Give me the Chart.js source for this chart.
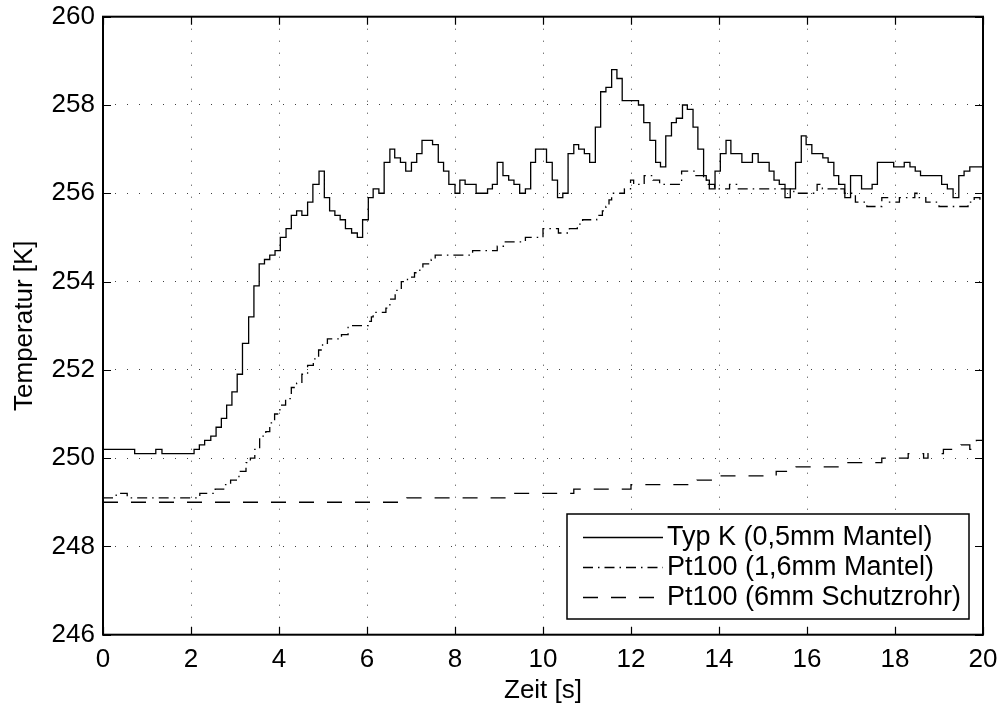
<!DOCTYPE html>
<html>
<head>
<meta charset="utf-8">
<script src="https://cdn.jsdelivr.net/npm/chart.js@4/dist/chart.umd.min.js"></script>
<style>
  html, body { margin: 0; padding: 0; background: #fff; }
  canvas { display: block; }
</style>
</head>
<body>
<canvas id="tempChart" width="1000" height="706"></canvas>
<script>
// step times [s] and temperatures [K]; each value holds until the next time
var typKTime = [0, 0.72, 1.2, 1.34, 2.07, 2.19, 2.31, 2.45, 2.57, 2.69, 2.81, 2.93, 3.05, 3.17, 3.31, 3.43,
    3.55, 3.67, 3.79, 3.91, 4.03, 4.16, 4.28, 4.4, 4.52, 4.65, 4.77, 4.91, 5.03, 5.15, 5.27, 5.39,
    5.51, 5.65, 5.78, 5.9, 6.03, 6.14, 6.27, 6.39, 6.52, 6.63, 6.76, 6.88, 7.01, 7.13, 7.25, 7.49,
    7.62, 7.74, 7.86, 8.0, 8.11, 8.23, 8.48, 8.74, 8.85, 8.96, 9.09, 9.22, 9.34, 9.47, 9.6, 9.72,
    9.83, 10.08, 10.21, 10.33, 10.45, 10.57, 10.7, 10.81, 10.94, 11.06, 11.19, 11.31, 11.43, 11.56,
    11.68, 11.8, 12.17, 12.29, 12.43, 12.56, 12.67, 12.79, 12.92, 13.03, 13.17, 13.28, 13.41, 13.52,
    13.65, 13.71, 13.78, 13.91, 14.03, 14.16, 14.27, 14.52, 14.76, 14.89, 15.14, 15.25, 15.37, 15.5,
    15.62, 15.74, 15.87, 15.98, 16.11, 16.36, 16.48, 16.61, 16.72, 16.86, 16.99, 17.24, 17.48, 17.6,
    17.97, 18.21, 18.34, 18.46, 18.58, 19.06, 19.19, 19.32, 19.45, 19.57, 19.7, 20];
var typKTemp = [250.2, 250.1, 250.2, 250.1, 250.2, 250.3, 250.4, 250.5, 250.7, 250.9, 251.2, 251.5, 251.9, 252.6, 253.2, 253.9,
    254.4, 254.5, 254.6, 254.7, 255.0, 255.2, 255.5, 255.6, 255.5, 255.8, 256.2, 256.5, 255.9, 255.6, 255.5, 255.4,
    255.2, 255.1, 255.0, 255.4, 255.9, 256.1, 256.0, 256.7, 257.0, 256.8, 256.7, 256.5, 256.7, 256.9, 257.2, 257.1,
    256.7, 256.5, 256.2, 256.0, 256.3, 256.2, 256.0, 256.1, 256.2, 256.7, 256.4, 256.3, 256.2, 256.0, 256.1, 256.7,
    257.0, 256.7, 256.3, 255.9, 256.0, 256.9, 257.1, 257.0, 256.9, 256.7, 257.5, 258.3, 258.4, 258.8,
    258.6, 258.1, 258.0, 257.6, 257.2, 256.7, 256.6, 257.3, 257.6, 257.7, 258.0, 257.9, 257.5, 257.0,
    256.4, 256.3, 256.1, 256.5, 256.9, 257.2, 256.9, 256.7, 256.9, 256.7, 256.5, 256.3, 256.2, 255.9,
    256.1, 256.7, 257.3, 257.1, 256.9, 256.8, 256.7, 256.4, 256.2, 255.9, 256.4, 256.1, 256.2, 256.7,
    256.6, 256.7, 256.6, 256.5, 256.4, 256.2, 256.1, 255.9, 256.4, 256.5, 256.6, 256.6];

var pt16Time = [0, 0.3, 0.55, 2.2, 2.55, 2.77, 2.9, 3.09, 3.25, 3.35, 3.45, 3.56, 3.7, 3.79, 3.9, 4.02,
    4.15, 4.28, 4.4, 4.52, 4.65, 4.78, 4.9, 4.99, 5.1, 5.42, 5.57, 6.03, 6.1, 6.14, 6.43, 6.52,
    6.64, 6.78, 6.92, 7.08, 7.2, 7.27, 7.46, 7.55, 8.4, 8.96, 9.1, 9.6, 10.0, 10.35, 10.6, 10.78,
    10.9, 11.22, 11.35, 11.43, 11.5, 11.56, 11.85, 11.99, 12.06, 12.3, 12.5, 12.65, 13.15, 13.45,
    13.65, 13.75, 13.9, 14.24, 14.4, 15.7, 16.23, 16.35, 16.68, 16.74, 16.85, 17.1, 17.36, 17.7,
    17.85, 18.1, 18.45, 18.5, 18.7, 19.0, 19.66, 19.8, 19.93, 20];
var pt16Temp = [249.1, 249.2, 249.1, 249.2, 249.3, 249.4, 249.5, 249.7, 249.9, 250.0, 250.2, 250.5, 250.6, 250.8, 251.0, 251.2,
    251.35, 251.6, 251.7, 251.9, 252.1, 252.25, 252.45, 252.6, 252.7, 252.8, 253.0, 253.1, 253.2, 253.3, 253.4, 253.6,
    253.8, 254.0, 254.1, 254.2, 254.3, 254.4, 254.5, 254.6, 254.7, 254.8, 254.9, 255.0, 255.2, 255.1, 255.2, 255.3,
    255.4, 255.5, 255.6, 255.7, 255.85, 256.0, 256.1, 256.3, 256.2, 256.4, 256.3, 256.2, 256.5, 256.4,
    256.3, 256.2, 256.1, 256.2, 256.1, 256.0, 256.2, 256.1, 256.2, 256.1, 256.0, 255.8, 255.7, 255.9,
    255.8, 255.9, 256.0, 255.9, 255.8, 255.7, 255.8, 255.9, 255.8, 255.8];

var pt6Time = [0, 6.9, 9.2, 10.7, 12.0, 13.5, 14.05, 15.3, 15.75, 16.9, 17.7, 18.3, 18.65, 18.75, 19.1, 19.5, 19.7, 19.85, 20];
var pt6Temp = [249.0, 249.1, 249.2, 249.3, 249.4, 249.5, 249.6, 249.7, 249.8, 249.9, 250.0, 250.1, 250.0, 250.1, 250.2, 250.3, 250.2, 250.4, 250.3];

var seriesNames = ['Typ K (0,5mm Mantel)', 'Pt100 (1,6mm Mantel)', 'Pt100 (6mm Schutzrohr)'];
var xTicks = [0, 2, 4, 6, 8, 10, 12, 14, 16, 18, 20];
var yTicks = [246, 248, 250, 252, 254, 256, 258, 260];

var FONT = "'Liberation Sans', Arial, Helvetica, sans-serif";

function toPoints(times, temps) {
    return times.map(function (t, i) { return { x: t, y: temps[i] }; });
}

function lineSet(label, times, temps, dash) {
    return {
        label: label,
        data: toPoints(times, temps),
        borderColor: '#000',
        borderWidth: 1.3,
        borderDash: dash,
        pointRadius: 0,
        stepped: 'before',
        fill: false
    };
}

// frame round the plot with inward tick marks, plus the boxed legend
var framePlugin = {
    id: 'frame',
    afterDatasetsDraw: function (chart) {
        var ctx = chart.ctx;
        var a = chart.chartArea;
        var xs = chart.scales.x, ys = chart.scales.y;
        var tl = 8;
        ctx.save();
        ctx.strokeStyle = '#000';
        ctx.lineWidth = 1.2;
        ctx.beginPath();
        xTicks.forEach(function (v) {
            var px = Math.round(xs.getPixelForValue(v)) + 0.5;
            ctx.moveTo(px, a.bottom); ctx.lineTo(px, a.bottom - tl);
            ctx.moveTo(px, a.top); ctx.lineTo(px, a.top + tl);
        });
        yTicks.forEach(function (v) {
            var py = Math.round(ys.getPixelForValue(v)) + 0.5;
            ctx.moveTo(a.left, py); ctx.lineTo(a.left + tl, py);
            ctx.moveTo(a.right, py); ctx.lineTo(a.right - tl, py);
        });
        ctx.stroke();
        ctx.lineWidth = 2;
        ctx.strokeRect(a.left, a.top, a.right - a.left, a.bottom - a.top);

        // legend box
        var bx = 567, by = 514, bw = 402, bh = 105;
        ctx.fillStyle = '#fff';
        ctx.fillRect(bx, by, bw, bh);
        ctx.lineWidth = 1.5;
        ctx.strokeRect(bx, by, bw, bh);
        ctx.font = '27px ' + FONT;
        ctx.fillStyle = '#000';
        ctx.textBaseline = 'alphabetic';
        ctx.textAlign = 'left';
        chart.data.datasets.forEach(function (ds, i) {
            var ly = 537 + i * 30;
            ctx.save();
            ctx.lineWidth = ds.borderWidth;
            ctx.setLineDash(ds.borderDash || []);
            ctx.beginPath();
            ctx.moveTo(583, ly + 0.5);
            ctx.lineTo(663, ly + 0.5);
            ctx.stroke();
            ctx.restore();
            ctx.fillText(ds.label, 667, ly + 7.5);
        });
        ctx.restore();
    }
};

var ctx = document.getElementById('tempChart').getContext('2d');
var tempChart = new Chart(ctx, {
    type: 'line',
    data: {
        datasets: [
            lineSet(seriesNames[0], typKTime, typKTemp, []),
            lineSet(seriesNames[1], pt16Time, pt16Temp, [10, 5, 1.5, 5]),
            lineSet(seriesNames[2], pt6Time, pt6Temp, [15, 13])
        ]
    },
    options: {
        responsive: false,
        devicePixelRatio: 1,
        animation: false,
        layout: { padding: { top: 16.7, right: 17, left: 0, bottom: 0 } },
        plugins: {
            legend: { display: false },
            tooltip: { enabled: false }
        },
        scales: {
            x: {
                type: 'linear',
                min: 0,
                max: 20,
                afterFit: function (s) {
                    s.height = 71.3;
                    s.paddingLeft = 0;
                    s.paddingRight = 0;
                },
                afterBuildTicks: function (s) { s.ticks = xTicks.map(function (v) { return { value: v }; }); },
                ticks: { autoSkip: false, maxRotation: 0, padding: 10, color: '#000', font: { family: FONT, size: 26 } },
                grid: { color: 'rgba(0,0,0,0.75)', lineWidth: 1, drawTicks: false },
                border: { display: false, dash: [1, 11] },
                title: { display: true, text: 'Zeit [s]', color: '#000', padding: { top: 0, bottom: 2 }, font: { family: FONT, size: 26, lineHeight: 1 } }
            },
            y: {
                type: 'linear',
                min: 246,
                max: 260,
                afterFit: function (s) {
                    s.width = 103;
                    s.paddingTop = 0;
                    s.paddingBottom = 0;
                },
                afterBuildTicks: function (s) { s.ticks = yTicks.map(function (v) { return { value: v }; }); },
                ticks: { autoSkip: false, padding: 8, color: '#000', font: { family: FONT, size: 26 } },
                grid: { color: 'rgba(0,0,0,0.75)', lineWidth: 1, drawTicks: false },
                border: { display: false, dash: [1, 11] },
                title: { display: true, text: 'Temperatur [K]', color: '#000', padding: { top: 12, bottom: 0 }, font: { family: FONT, size: 26, lineHeight: 1 } }
            }
        }
    },
    plugins: [framePlugin]
});
</script>
</body>
</html>
